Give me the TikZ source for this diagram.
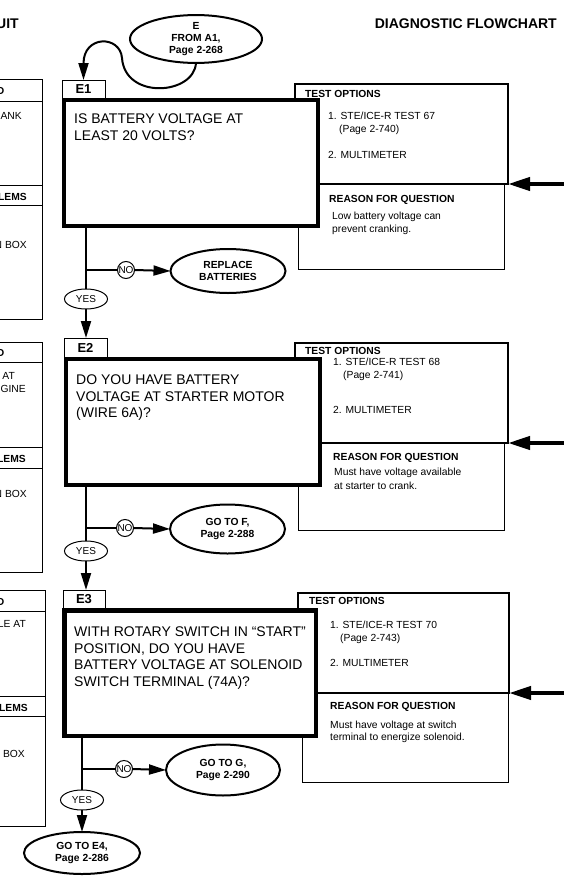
\documentclass[tikz,border=0pt]{standalone}
\usepackage{fontspec}
\setmainfont{Liberation Sans}
\usetikzlibrary{arrows.meta,shapes.geometric,calc}
\tikzset{
  conn/.style={line width=2pt},
  arr/.style={line width=2pt,-{Triangle[length=17pt,width=10pt]}},
  bigarr/.style={line width=4pt,-{Triangle[length=22pt,width=13pt]}},
  qbox/.style={draw,line width=4.5pt,fill=white,inner sep=0pt,outer sep=0pt},
  tabbox/.style={draw,line width=1pt,fill=white,inner sep=0pt,outer sep=0pt,font=\fontsize{13}{15}\selectfont\bfseries},
  testbox/.style={draw,line width=1.6pt,fill=white,inner sep=0pt,outer sep=0pt},
  reasonbox/.style={draw,line width=1pt,fill=white,inner sep=0pt,outer sep=0pt},
  term/.style={draw,ellipse,line width=2pt,fill=white,inner sep=0pt,outer sep=0pt,align=center,font=\fontsize{10.3}{12.3}\selectfont\bfseries},
  nocirc/.style={draw,circle,line width=1pt,fill=white,inner sep=0pt,outer sep=0pt,minimum size=17pt,font=\fontsize{10}{12}\selectfont},
  yesell/.style={draw,ellipse,line width=1pt,fill=white,inner sep=0pt,outer sep=0pt,minimum width=43pt,minimum height=20pt,font=\fontsize{10}{12}\selectfont},
  qtext/.style={anchor=north west,inner sep=0pt,align=left,font=\fontsize{14}{16.4}\selectfont},
  small/.style={anchor=base west,inner sep=0pt,font=\fontsize{10.3}{12}\selectfont},
  smallb/.style={anchor=base west,inner sep=0pt,font=\fontsize{10.3}{12}\selectfont\bfseries},
  clipt/.style={anchor=base east,inner sep=0pt,font=\fontsize{10.3}{12}\selectfont},
  clipb/.style={anchor=base east,inner sep=0pt,font=\fontsize{10.3}{12}\selectfont\bfseries},
  titletext/.style={anchor=base east,inner sep=0pt,font=\fontsize{14}{16}\selectfont\bfseries},
  panel/.style={line width=1pt},
}
\begin{document}
\begin{tikzpicture}[x=1pt,y=-1pt]
\useasboundingbox (0,0) rectangle (564,878);
\fill[white] (0,0) rectangle (564,878);

% titles
\node[titletext] (uit) at (19,28) {UIT};
\node[titletext] (dt) at (557,28) {DIAGNOSTIC FLOWCHART};

% left clipped panels
\draw[panel] (-2,79) -- (42,79) -- (42,319) -- (-2,319);
\draw[panel] (-2,101) -- (42,101) (-2,185) -- (42,185) (-2,205) -- (42,205);
\node[clipb] (p1a) at (4.5,94) {D};
\node[clipt] (p1b) at (22,119) {ANK};
\node[clipb] (p1c) at (27,200) {LEMS};
\node[clipt] (p1d) at (27,248) {N BOX};

\draw[panel] (-2,342) -- (42,342) -- (42,572) -- (-2,572);
\draw[panel] (-2,362) -- (42,362) (-2,447) -- (42,447) (-2,468) -- (42,468);
\node[clipb] (p2a) at (4.5,356) {D};
\node[clipt] (p2b) at (15,379) {AT};
\node[clipt] (p2c) at (26,392) {GINE};
\node[clipb] (p2d) at (26,462) {LEMS};
\node[clipt] (p2e) at (27,497) {N BOX};

\draw[panel] (-2,590) -- (45,590) -- (45,826) -- (-2,826);
\draw[panel] (-2,611) -- (45,611) (-2,696) -- (45,696) (-2,716) -- (45,716);
\node[clipb] (p3a) at (4.5,605) {D};
\node[clipt] (p3b) at (26,627) {LE AT};
\node[clipb] (p3c) at (28,711) {LEMS};
\node[clipt] (p3d) at (25,757) {BOX};

% entry
\node[term,minimum width=132pt,minimum height=46pt] (ef) at (196,39) {E\\FROM A1,\\Page 2-268};

% ---------- E1 ----------
\node[reasonbox,minimum width=206pt,minimum height=85pt] (rs1) at (401,226.5) {};
\node[testbox,minimum width=213pt,minimum height=100pt] (to1) at (401.5,134) {};
\node[tabbox,minimum width=43pt,minimum height=18pt] (t1) at (83.5,89) {E1};
\node[qbox,minimum width=254pt,minimum height=126pt] (q1) at (191,163) {};
\node[qtext] (qt1) at (74,114) {IS BATTERY VOLTAGE AT\\LEAST 20 VOLTS?};
\node[smallb] (to1h) at (305,97.7) {TEST OPTIONS};
\node[small] (to1a) at (328,119) {1. STE/ICE-R TEST 67};
\node[small] (to1b) at (339,132) {(Page 2-740)};
\node[small] (to1c) at (328,158) {2. MULTIMETER};
\node[smallb] (rs1h) at (329,202) {REASON FOR QUESTION};
\node[small] (rs1a) at (332,219) {Low battery voltage can};
\node[small] (rs1b) at (332,232) {prevent cranking.};
\coordinate (r1) at (566,184);
\draw[bigarr] (r1) -- (to1.south east);

\node[yesell] (y1) at (86,299) {YES};
\node[nocirc] (n1) at (126,270) {NO};
\node[term,minimum width=115pt,minimum height=44pt] (rep) at (228,271) {REPLACE\\BATTERIES};
\draw[conn] (q1.south -| y1) -- (y1.north);
\draw[conn] (n1.west) -- (n1.west -| y1);
\draw[arr] (n1.east) -- (rep.west);

\draw[arr] (ef.south) .. controls (194,95) and (125,100) .. (122,58) .. controls (120,35) and (83.5,35) .. (t1.north);

% ---------- E2 ----------
\node[reasonbox,minimum width=206pt,minimum height=87pt] (rs2) at (401,486.5) {};
\node[testbox,minimum width=213pt,minimum height=100pt] (to2) at (401.5,393) {};
\node[tabbox,minimum width=43pt,minimum height=19pt] (t2) at (85.5,347.5) {E2};
\node[qbox,minimum width=254pt,minimum height=126pt] (q2) at (193,422) {};
\node[qtext] (qt2) at (76,375) {DO YOU HAVE BATTERY\\VOLTAGE AT STARTER MOTOR\\(WIRE 6A)?};
\node[smallb] (to2h) at (305,354.5) {TEST OPTIONS};
\node[small] (to2a) at (333,365.5) {1. STE/ICE-R TEST 68};
\node[small] (to2b) at (343,378.7) {(Page 2-741)};
\node[small] (to2c) at (333,413.7) {2. MULTIMETER};
\node[smallb] (rs2h) at (333,460.4) {REASON FOR QUESTION};
\node[small] (rs2a) at (334,475.5) {Must have voltage available};
\node[small] (rs2b) at (334,489) {at starter to crank.};
\coordinate (r2) at (566,443);
\draw[bigarr] (r2) -- (to2.south east);

\draw[arr] (y1.south) -- (t2.north -| y1);

\node[yesell] (y2) at (86,551) {YES};
\node[nocirc] (n2) at (125,528) {NO};
\node[term,minimum width=115pt,minimum height=49pt] (gf) at (227.5,529) {GO TO F,\\Page 2-288};
\draw[conn] (q2.south -| y2) -- (y2.north);
\draw[conn] (n2.west) -- (n2.west -| y2);
\draw[arr] (n2.east) -- (gf.west);

% ---------- E3 ----------
\node[reasonbox,minimum width=206pt,minimum height=89pt] (rs3) at (405,737.5) {};
\node[testbox,minimum width=211pt,minimum height=100pt] (to3) at (403.5,643) {};
\node[tabbox,minimum width=42pt,minimum height=18pt] (t3) at (84,599) {E3};
\node[qbox,minimum width=251.5pt,minimum height=125.5pt] (q3) at (190,673) {};
\node[qtext] (qt3) at (74,627) {WITH ROTARY SWITCH IN “START”\\POSITION, DO YOU HAVE\\BATTERY VOLTAGE AT SOLENOID\\SWITCH TERMINAL (74A)?};
\node[smallb] (to3h) at (309,604.4) {TEST OPTIONS};
\node[small] (to3a) at (330,628.7) {1. STE/ICE-R TEST 70};
\node[small] (to3b) at (340,641) {(Page 2-743)};
\node[small] (to3c) at (330,666.4) {2. MULTIMETER};
\node[smallb] (rs3h) at (330,709.7) {REASON FOR QUESTION};
\node[small] (rs3a) at (330,728.5) {Must have voltage at switch};
\node[small] (rs3b) at (330,740.2) {terminal to energize solenoid.};
\coordinate (r3) at (566,693);
\draw[bigarr] (r3) -- (to3.south east);

\draw[arr] (y2.south) -- (t3.north -| y2);

\node[yesell] (y3) at (82,800) {YES};
\node[nocirc] (n3) at (124,769) {NO};
\node[term,minimum width=114pt,minimum height=51pt] (gg) at (223,770) {GO TO G,\\Page 2-290};
\node[term,minimum width=116pt,minimum height=42pt] (ge4) at (82,853) {GO TO E4,\\Page 2-286};
\draw[conn] (q3.south -| y3) -- (y3.north);
\draw[conn] (n3.west) -- (n3.west -| y3);
\draw[arr] (n3.east) -- (gg.west);
\draw[arr] (y3.south) -- (ge4.north);
\end{tikzpicture}
\end{document}
